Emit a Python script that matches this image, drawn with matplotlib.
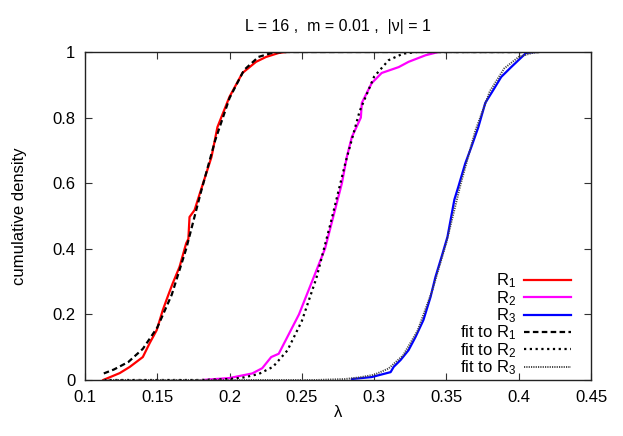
import matplotlib
matplotlib.use("Agg")
import matplotlib.pyplot as plt
from matplotlib.lines import Line2D

plt.rcParams['font.family'] = ['Liberation Sans', 'DejaVu Sans']
plt.rcParams['mathtext.fontset'] = 'custom'
plt.rcParams['mathtext.rm'] = 'Liberation Sans'
plt.rcParams['mathtext.it'] = 'Liberation Sans'

# R1 empirical CDF
r1_x = [0.1126, 0.124, 0.131, 0.140, 0.1448, 0.1496, 0.1538, 0.1571, 0.1607, 0.1654,
        0.170, 0.1715, 0.1723, 0.1758, 0.178, 0.1875, 0.1916, 0.1999, 0.2089, 0.2183,
        0.2253, 0.234, 0.239]
r1_y = [0.0, 0.021, 0.04, 0.07, 0.113, 0.152, 0.213, 0.253, 0.295, 0.345,
        0.417, 0.43, 0.497, 0.518, 0.549, 0.68, 0.771, 0.863, 0.936, 0.97,
        0.985, 0.997, 1.0]
# R2 empirical CDF
r2_x = [0.1813, 0.1999, 0.2157, 0.2226, 0.2288, 0.234, 0.248, 0.266, 0.2777, 0.2811,
        0.2846, 0.2908, 0.2915, 0.2983, 0.3052, 0.317, 0.3238, 0.3355, 0.3445]
r2_y = [0.0, 0.006, 0.02, 0.036, 0.07, 0.08, 0.2, 0.4, 0.6, 0.68,
        0.741, 0.8, 0.845, 0.905, 0.936, 0.954, 0.97, 0.99, 1.0]
# R3 empirical CDF
r3_x = [0.2846, 0.2983, 0.3114, 0.3135, 0.3183, 0.3238, 0.3286, 0.3341, 0.339, 0.3424,
        0.3466, 0.3507, 0.3555, 0.3583, 0.363, 0.3672, 0.372, 0.3769, 0.3824, 0.3879,
        0.3948, 0.401, 0.4051, 0.4113]
r3_y = [0.003, 0.009, 0.024, 0.04, 0.061, 0.091, 0.131, 0.183, 0.253, 0.314,
        0.375, 0.436, 0.55, 0.59, 0.66, 0.71, 0.77, 0.845, 0.884, 0.924,
        0.954, 0.98, 0.997, 1.0]

# fits
f1_x = [0.113, 0.120, 0.130, 0.140, 0.150, 0.160, 0.170, 0.180, 0.190, 0.200,
        0.210, 0.220, 0.230, 0.240, 0.415]
f1_y = [0.02, 0.032, 0.055, 0.095, 0.16, 0.26, 0.40, 0.57, 0.73, 0.86,
        0.945, 0.985, 0.998, 1.0, 1.0]
f2_x = [0.113, 0.18, 0.20, 0.21, 0.22, 0.23, 0.24, 0.25, 0.26, 0.27,
        0.28, 0.29, 0.30, 0.31, 0.32, 0.33, 0.415]
f2_y = [0.0, 0.0, 0.003, 0.008, 0.018, 0.04, 0.09, 0.18, 0.31, 0.48,
        0.66, 0.82, 0.925, 0.975, 0.995, 1.0, 1.0]
f3_x = [0.113, 0.26, 0.28, 0.29, 0.30, 0.31, 0.32, 0.33, 0.34, 0.35,
        0.36, 0.37, 0.38, 0.39, 0.40, 0.41, 0.415]
f3_y = [0.0, 0.0, 0.003, 0.008, 0.016, 0.035, 0.075, 0.15, 0.27, 0.42,
        0.60, 0.76, 0.88, 0.95, 0.985, 0.998, 1.0]

labels = ['R$_1$', 'R$_2$', 'R$_3$', 'fit to R$_1$', 'fit to R$_2$', 'fit to R$_3$']

xticks = [0.1, 0.15, 0.2, 0.25, 0.3, 0.35, 0.4, 0.45]
xtick_labels = ['0.1', '0.15', '0.2', '0.25', '0.3', '0.35', '0.4', '0.45']
yticks = [0, 0.2, 0.4, 0.6, 0.8, 1]
ytick_labels = ['0', '0.2', '0.4', '0.6', '0.8', '1']

W, H = 623, 436
fig = plt.figure(figsize=(W / 100, H / 100), dpi=100)
L, R, T, B = 85, 591, 52, 380
ax = fig.add_axes([L / W, (H - B) / H, (R - L) / W, (B - T) / H])

styles = [
    dict(color='#ff0000', lw=1.6, ls='-'),
    dict(color='#ff00ff', lw=1.6, ls='-'),
    dict(color='#0000ff', lw=1.6, ls='-'),
    dict(color='black', lw=1.6, ls=(0, (2.5, 1.5))),
    dict(color='black', lw=1.6, ls=(0, (1, 1.6))),
    dict(color='#444444', lw=1.4, ls=(0, (0.6, 0.6))),
]
series = [(r1_x, r1_y), (r2_x, r2_y), (r3_x, r3_y), (f1_x, f1_y), (f2_x, f2_y), (f3_x, f3_y)]
for (xs, ys), st in zip(series, styles):
    ax.plot(xs, ys, **st)

ax.set_xlim(0.1, 0.45)
ax.set_ylim(0, 1)
ax.set_xticks(xticks)
ax.set_xticklabels(xtick_labels)
ax.set_yticks(yticks)
ax.set_yticklabels(ytick_labels)
ax.tick_params(direction='in', length=5, width=0.8, top=True, right=True,
               labelsize=12, pad=7, color='#333333')
for s in ax.spines.values():
    s.set_linewidth(1.0)
    s.set_color('#222222')

ax.set_xlabel('λ', fontsize=12, labelpad=0)
ax.set_ylabel('cumulative density', fontsize=12, labelpad=18)
fig.text(338 / W, 1 - 27 / H, 'L = 16 ,  m = 0.01 ,  |ν| = 1', fontsize=11.5,
         ha='center', va='center')

# manual gnuplot-style key
row0, dy = 280, 17.35
for i, (lab, st) in enumerate(zip(labels, styles)):
    py = row0 + i * dy
    yf = (B - py) / (B - T)
    ax.add_line(Line2D([(524 - L) / (R - L), (571 - L) / (R - L)], [yf, yf],
                       transform=ax.transAxes, **st))
    ax.text((516 - L) / (R - L), (B - py - 5.5) / (B - T), lab, transform=ax.transAxes,
            ha='right', va='baseline', fontsize=12)

fig.savefig('out.png', dpi=100)
